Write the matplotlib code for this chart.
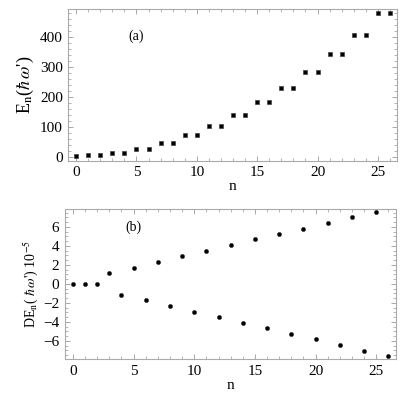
import numpy as np
import matplotlib
matplotlib.use('Agg')
import matplotlib.pyplot as plt
from matplotlib.ticker import MultipleLocator

plt.rcParams['font.family'] = ['Liberation Serif', 'DejaVu Serif']
plt.rcParams['mathtext.fontset'] = 'stix'

# energy levels (panel a)
n_a = list(range(27))
E_n = [1, 4, 4, 11, 11, 26, 26, 46, 46, 71, 71, 102, 102, 138, 138,
       181, 181, 229, 229, 283, 283, 342, 342, 407, 407, 478, 478]

# splitting (panel b), units of 1e-5
n_b = list(range(27))
DE_n = [0, 0, 0, 1.13, -1.2, 1.69, -1.76, 2.29, -2.36, 2.89, -2.93, 3.46, -3.53,
        4.06, -4.13, 4.66, -4.69, 5.22, -5.26, 5.79, -5.86, 6.39, -6.46,
        6.99, -7.06, 7.55, -7.62]

fig = plt.figure(figsize=(4.15, 3.99), dpi=100)
ax1 = fig.add_axes([0.1646, 0.5977, 0.7924, 0.3797])
ax2 = fig.add_axes([0.1566, 0.0995, 0.7969, 0.3767])

def style(ax):
    for s in ax.spines.values():
        s.set_color('#aaaaaa')
        s.set_linewidth(0.8)
    ax.tick_params(which='both', direction='in', top=True, right=True,
                   color='#999999', labelsize=11, pad=4)
    ax.tick_params(which='major', length=3.5, width=0.6)
    ax.tick_params(which='minor', length=2, width=0.5)
    ax.xaxis.set_major_locator(MultipleLocator(5))
    ax.xaxis.set_minor_locator(MultipleLocator(1))
    ax.set_xlim(-0.65, 26.6)
    ax.set_xlabel('n', fontsize=11, labelpad=1)

style(ax1)
ax1.plot(n_a, E_n, ls='none', marker='s', ms=3.4, mfc='black', mec='#444444', mew=0.5)
ax1.set_ylim(-13, 492)
ax1.yaxis.set_major_locator(MultipleLocator(100))
ax1.yaxis.set_minor_locator(MultipleLocator(20))
ax1.set_ylabel(r"E$_{\rm n}$($\hbar\,\omega$')", fontsize=13, labelpad=3)
ax1.text(5, 400, '(a)', fontsize=10, ha='center', va='center')

style(ax2)
ax2.plot(n_b, DE_n, ls='none', marker='o', ms=3.0, mfc='black', mec='#333333', mew=0.4)
ax2.set_ylim(-7.95, 7.87)
ax2.yaxis.set_major_locator(MultipleLocator(2))
ax2.yaxis.set_minor_locator(MultipleLocator(0.5))
ax2.set_ylabel(r"DE$_{\rm n}$( $\hbar\,\omega$') 10$^{-5}$", fontsize=10, labelpad=2)
ax2.text(5, 6, '(b)', fontsize=10, ha='center', va='center')

fig.savefig('out.png', dpi=100)
